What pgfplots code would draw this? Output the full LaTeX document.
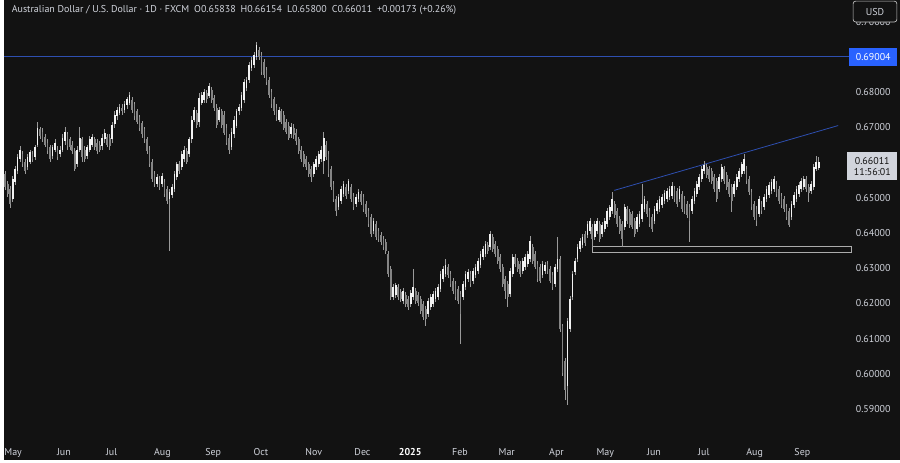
\documentclass[border=0pt]{standalone}
\usepackage{pgfplots}
\pgfplotsset{compat=1.18}
\usepackage{pgfplotstable}
\usetikzlibrary{calc}
\usepackage{fontspec}
\setmainfont{PT Sans}

\definecolor{bg}{HTML}{121212}
\definecolor{txt}{HTML}{D1D4DC}
\definecolor{upc}{HTML}{F2F2F2}
\definecolor{dnc}{HTML}{858585}
\definecolor{wick}{HTML}{9A9A9A}
\definecolor{tline}{HTML}{2E4FB0}
\definecolor{tvblue}{HTML}{2962FF}

% AUD/USD daily candles (open high low close), oldest first
\pgfplotstableread{
o h l c
.6567 .6575 .6521 .6530
.6538 .6547 .6502 .6510
.6524 .6533 .6471 .6482
.6496 .6561 .6488 .6553
.6544 .6589 .6536 .6581
.6575 .6623 .6567 .6615
.6609 .6646 .6601 .6637
.6623 .6632 .6587 .6595
.6601 .6609 .6567 .6575
.6587 .6623 .6578 .6615
.6603 .6637 .6595 .6629
.6623 .6632 .6601 .6609
.6615 .6651 .6606 .6643
.6651 .6714 .6643 .6699
.6694 .6702 .6666 .6674
.6688 .6697 .6657 .6666
.6674 .6682 .6643 .6651
.6657 .6666 .6623 .6632
.6643 .6651 .6601 .6609
.6618 .6651 .6609 .6643
.6637 .6666 .6629 .6657
.6637 .6646 .6606 .6615
.6623 .6646 .6615 .6637
.6637 .6680 .6629 .6671
.6660 .6702 .6651 .6688
.6680 .6688 .6637 .6646
.6666 .6674 .6635 .6643
.6651 .6660 .6623 .6632
.6632 .6640 .6575 .6581
.6595 .6646 .6587 .6637
.6637 .6702 .6629 .6671
.6666 .6674 .6601 .6615
.6637 .6646 .6601 .6609
.6618 .6651 .6609 .6643
.6637 .6674 .6629 .6666
.6651 .6682 .6643 .6674
.6666 .6674 .6635 .6643
.6657 .6666 .6623 .6632
.6651 .6660 .6629 .6637
.6646 .6680 .6637 .6671
.6666 .6694 .6657 .6685
.6674 .6682 .6643 .6651
.6671 .6680 .6637 .6646
.6666 .6716 .6657 .6708
.6708 .6745 .6699 .6736
.6731 .6759 .6722 .6750
.6742 .6767 .6734 .6759
.6756 .6765 .6736 .6745
.6750 .6776 .6742 .6767
.6762 .6787 .6753 .6779
.6770 .6801 .6762 .6793
.6779 .6787 .6742 .6750
.6765 .6773 .6722 .6731
.6745 .6753 .6708 .6716
.6728 .6736 .6691 .6699
.6711 .6719 .6671 .6680
.6694 .6702 .6657 .6666
.6666 .6674 .6623 .6632
.6637 .6646 .6587 .6595
.6601 .6609 .6544 .6553
.6567 .6575 .6530 .6538
.6538 .6567 .6530 .6558
.6553 .6561 .6521 .6530
.6538 .6570 .6530 .6561
.6544 .6553 .6502 .6510
.6524 .6533 .6482 .6490
.6496 .6524 .6349 .6516
.6507 .6538 .6499 .6530
.6524 .6575 .6516 .6567
.6558 .6603 .6550 .6595
.6595 .6603 .6567 .6575
.6587 .6632 .6578 .6623
.6609 .6646 .6601 .6637
.6632 .6640 .6595 .6603
.6623 .6674 .6615 .6666
.6666 .6731 .6657 .6722
.6722 .6759 .6714 .6750
.6742 .6750 .6699 .6708
.6714 .6798 .6702 .6784
.6770 .6801 .6762 .6793
.6779 .6809 .6770 .6801
.6798 .6807 .6770 .6779
.6790 .6826 .6782 .6818
.6807 .6815 .6770 .6779
.6784 .6793 .6747 .6756
.6756 .6765 .6699 .6708
.6722 .6759 .6714 .6750
.6745 .6753 .6699 .6708
.6736 .6745 .6677 .6685
.6699 .6708 .6649 .6657
.6671 .6680 .6623 .6637
.6643 .6697 .6635 .6688
.6680 .6731 .6671 .6722
.6705 .6753 .6697 .6745
.6745 .6767 .6736 .6759
.6756 .6801 .6747 .6793
.6779 .6838 .6770 .6829
.6812 .6843 .6804 .6835
.6835 .6886 .6826 .6877
.6869 .6900 .6860 .6892
.6877 .6914 .6869 .6906
.6900 .6942 .6892 .6934
.6920 .6928 .6892 .6900
.6906 .6914 .6849 .6857
.6886 .6894 .6841 .6849
.6863 .6872 .6821 .6829
.6835 .6843 .6784 .6793
.6801 .6809 .6756 .6765
.6779 .6787 .6736 .6745
.6756 .6765 .6719 .6728
.6722 .6759 .6714 .6750
.6745 .6753 .6708 .6716
.6736 .6745 .6691 .6699
.6716 .6725 .6680 .6688
.6705 .6714 .6663 .6671
.6680 .6711 .6671 .6702
.6699 .6708 .6668 .6677
.6685 .6694 .6651 .6660
.6666 .6674 .6623 .6632
.6637 .6646 .6601 .6609
.6623 .6632 .6587 .6595
.6609 .6618 .6578 .6587
.6595 .6603 .6558 .6567
.6581 .6589 .6544 .6558
.6567 .6603 .6558 .6595
.6587 .6618 .6578 .6609
.6595 .6632 .6587 .6623
.6609 .6646 .6601 .6637
.6603 .6688 .6567 .6671
.6651 .6660 .6606 .6615
.6623 .6632 .6558 .6567
.6581 .6589 .6521 .6530
.6538 .6547 .6488 .6496
.6496 .6505 .6448 .6462
.6473 .6510 .6465 .6502
.6490 .6533 .6482 .6524
.6510 .6547 .6502 .6538
.6530 .6538 .6496 .6505
.6519 .6553 .6510 .6547
.6530 .6538 .6488 .6496
.6505 .6513 .6465 .6473
.6482 .6510 .6473 .6502
.6496 .6524 .6488 .6516
.6510 .6519 .6479 .6488
.6502 .6510 .6459 .6468
.6482 .6490 .6445 .6454
.6462 .6471 .6417 .6425
.6445 .6454 .6389 .6397
.6406 .6442 .6397 .6434
.6425 .6434 .6380 .6389
.6406 .6414 .6375 .6383
.6394 .6403 .6366 .6375
.6383 .6392 .6352 .6361
.6375 .6383 .6341 .6349
.6341 .6349 .6276 .6284
.6298 .6307 .6211 .6219
.6219 .6256 .6211 .6247
.6225 .6259 .6216 .6253
.6247 .6256 .6211 .6219
.6233 .6242 .6205 .6214
.6208 .6245 .6199 .6236
.6225 .6233 .6191 .6199
.6214 .6222 .6182 .6191
.6199 .6239 .6191 .6230
.6219 .6298 .6211 .6247
.6236 .6245 .6199 .6208
.6225 .6233 .6194 .6202
.6214 .6222 .6171 .6180
.6199 .6208 .6154 .6163
.6185 .6194 .6135 .6157
.6171 .6216 .6163 .6208
.6191 .6228 .6182 .6219
.6199 .6236 .6191 .6228
.6214 .6245 .6205 .6236
.6219 .6256 .6211 .6247
.6242 .6292 .6233 .6284
.6270 .6307 .6262 .6298
.6284 .6327 .6276 .6310
.6304 .6312 .6273 .6281
.6284 .6292 .6247 .6256
.6264 .6273 .6228 .6236
.6256 .6264 .6211 .6219
.6242 .6250 .6199 .6208
.6228 .6236 .6086 .6171
.6219 .6264 .6211 .6256
.6247 .6292 .6239 .6284
.6270 .6298 .6262 .6290
.6284 .6292 .6247 .6256
.6264 .6301 .6256 .6293
.6281 .6312 .6273 .6304
.6293 .6329 .6284 .6321
.6310 .6349 .6301 .6341
.6332 .6363 .6324 .6355
.6341 .6377 .6332 .6369
.6366 .6375 .6341 .6349
.6361 .6406 .6352 .6397
.6389 .6397 .6346 .6355
.6369 .6377 .6332 .6341
.6355 .6363 .6312 .6321
.6332 .6341 .6290 .6298
.6304 .6312 .6247 .6256
.6270 .6279 .6214 .6236
.6256 .6264 .6191 .6219
.6228 .6301 .6219 .6293
.6284 .6341 .6276 .6332
.6332 .6341 .6304 .6312
.6321 .6329 .6290 .6298
.6312 .6321 .6276 .6284
.6293 .6329 .6284 .6321
.6304 .6341 .6295 .6332
.6312 .6349 .6304 .6341
.6327 .6392 .6318 .6377
.6361 .6369 .6312 .6321
.6341 .6349 .6298 .6304
.6312 .6321 .6262 .6270
.6304 .6312 .6259 .6264
.6281 .6321 .6273 .6312
.6293 .6318 .6284 .6310
.6312 .6321 .6284 .6293
.6298 .6307 .6259 .6264
.6281 .6290 .6239 .6247
.6256 .6312 .6247 .6304
.6298 .6389 .6290 .6327
.6327 .6335 .6120 .6129
.6135 .6143 .5993 .6002
.6038 .6046 .5925 .5954
.5965 .6160 .5911 .6151
.6129 .6222 .6120 .6214
.6219 .6293 .6211 .6284
.6290 .6329 .6281 .6321
.6327 .6369 .6318 .6361
.6355 .6386 .6346 .6377
.6366 .6397 .6358 .6389
.6397 .6406 .6363 .6372
.6394 .6434 .6386 .6425
.6406 .6442 .6397 .6434
.6417 .6425 .6361 .6383
.6389 .6434 .6380 .6425
.6406 .6442 .6397 .6434
.6425 .6434 .6375 .6383
.6397 .6431 .6389 .6423
.6411 .6442 .6403 .6434
.6425 .6471 .6417 .6462
.6445 .6479 .6437 .6473
.6462 .6516 .6454 .6496
.6482 .6490 .6442 .6451
.6462 .6471 .6417 .6425
.6440 .6448 .6397 .6406
.6425 .6434 .6361 .6383
.6417 .6482 .6408 .6473
.6468 .6476 .6425 .6434
.6459 .6468 .6414 .6423
.6454 .6462 .6411 .6417
.6434 .6442 .6389 .6397
.6411 .6454 .6403 .6445
.6425 .6462 .6417 .6454
.6440 .6538 .6431 .6482
.6468 .6505 .6459 .6496
.6482 .6490 .6445 .6454
.6462 .6471 .6417 .6425
.6445 .6454 .6403 .6411
.6434 .6476 .6425 .6468
.6462 .6493 .6454 .6485
.6468 .6505 .6459 .6496
.6479 .6510 .6471 .6502
.6490 .6521 .6482 .6513
.6496 .6527 .6488 .6519
.6502 .6533 .6493 .6524
.6505 .6544 .6496 .6533
.6524 .6533 .6488 .6496
.6519 .6527 .6473 .6482
.6496 .6533 .6488 .6524
.6510 .6519 .6459 .6468
.6496 .6505 .6454 .6462
.6482 .6490 .6442 .6451
.6473 .6482 .6375 .6434
.6462 .6505 .6454 .6496
.6490 .6527 .6482 .6519
.6510 .6547 .6502 .6538
.6530 .6567 .6521 .6558
.6553 .6589 .6544 .6581
.6575 .6603 .6567 .6592
.6587 .6595 .6555 .6564
.6581 .6589 .6544 .6553
.6575 .6584 .6538 .6547
.6558 .6567 .6516 .6524
.6547 .6555 .6488 .6496
.6524 .6567 .6516 .6558
.6553 .6595 .6544 .6587
.6581 .6589 .6538 .6547
.6564 .6572 .6521 .6530
.6544 .6553 .6502 .6510
.6530 .6538 .6459 .6490
.6510 .6547 .6502 .6538
.6530 .6567 .6521 .6558
.6553 .6584 .6544 .6575
.6567 .6603 .6558 .6595
.6575 .6623 .6567 .6609
.6581 .6589 .6538 .6547
.6553 .6561 .6507 .6516
.6516 .6524 .6465 .6473
.6482 .6490 .6437 .6445
.6468 .6476 .6420 .6434
.6454 .6505 .6445 .6496
.6482 .6490 .6454 .6462
.6473 .6510 .6465 .6502
.6496 .6533 .6488 .6524
.6507 .6544 .6499 .6536
.6519 .6553 .6510 .6544
.6524 .6561 .6516 .6553
.6538 .6547 .6502 .6510
.6524 .6533 .6482 .6490
.6505 .6513 .6471 .6479
.6496 .6505 .6459 .6468
.6473 .6482 .6437 .6445
.6462 .6471 .6417 .6423
.6445 .6490 .6437 .6482
.6479 .6516 .6471 .6507
.6496 .6533 .6488 .6524
.6510 .6544 .6502 .6536
.6524 .6555 .6516 .6547
.6530 .6561 .6521 .6553
.6553 .6561 .6516 .6524
.6530 .6538 .6488 .6513
.6519 .6547 .6510 .6538
.6530 .6595 .6521 .6587
.6581 .6618 .6575 .6601
.65838 .66154 .65800 .66011
}\aud

\begin{document}
\begin{tikzpicture}
\begin{axis}[
    scale only axis,
    width=675pt, height=346.5pt,
    xmin=0, xmax=900,
    ymin=0.575593, ymax=0.706102,
    axis background/.style={fill=bg},
    axis line style={draw=none},
    major tick length=0pt,
    ytick pos=right, yticklabel pos=right,
    ytick={0.59,0.60,0.61,0.62,0.63,0.64,0.65,0.67,0.68,0.70},
    yticklabels={0.59000,0.60000,0.61000,0.62000,0.63000,0.64000,0.65000,0.67000,0.68000,0.70000},
    yticklabel style={anchor=east, xshift=-3.5pt, text=txt, font=\fontsize{7.5}{9}\selectfont},
    xtick={9,60,108,159,210,258,311,360,408,458,505,555,604,653,703,754,802},
    xticklabels={May,Jun,Jul,Aug,Sep,Oct,Nov,Dec,{\color{white}\bfseries 2025},Feb,Mar,Apr,May,Jun,Jul,Aug,Sep},
    xticklabel style={anchor=base, yshift=3pt, text=txt, font=\fontsize{7.5}{9}\selectfont},
]
% support zone and drawn lines
\addplot[draw=gray!65, fill=bg, line width=0.6pt] coordinates {(591,0.6361) (851,0.6361) (851,0.6346) (591,0.6346) (591,0.6361)};
\addplot[tline, line width=0.6pt] coordinates {(0,0.69004) (849,0.69004)};
\addplot[tline, line width=0.6pt] coordinates {(613,0.6521) (838,0.6705)};
% wicks
\addplot[draw=none, mark=none, error bars/.cd, y dir=both, y explicit,
    error mark=none, error bar style={draw=wick, line width=0.55pt}]
  table[x expr=1+2.5*\coordindex, y expr=(\thisrow{h}+\thisrow{l})/2,
        y error expr=(\thisrow{h}-\thisrow{l})/2] {\aud};
% down bodies
\addplot[draw=none, mark=none, error bars/.cd, y dir=both, y explicit,
    error mark=none, error bar style={draw=dnc, line width=1.3pt}]
  table[x expr=1+2.5*\coordindex,
        y expr={\thisrow{c}<\thisrow{o} ? (\thisrow{o}+\thisrow{c})/2 : nan},
        y error expr=abs(\thisrow{o}-\thisrow{c})/2] {\aud};
% up bodies
\addplot[draw=none, mark=none, error bars/.cd, y dir=both, y explicit,
    error mark=none, error bar style={draw=upc, line width=1.3pt}]
  table[x expr=1+2.5*\coordindex,
        y expr={\thisrow{c}>=\thisrow{o} ? (\thisrow{o}+\thisrow{c})/2 : nan},
        y error expr=abs(\thisrow{o}-\thisrow{c})/2] {\aud};

\node[anchor=west, text=txt, font=\fontsize{7.5}{9}\selectfont] at (axis cs:3,0.70328)
  {Australian Dollar / U.S. Dollar · 1D · FXCM\enspace O0.65838\enspace H0.66154\enspace L0.65800\enspace C0.66011\enspace +0.00173 (+0.26\%)};
\node[fill=tvblue, text=white, inner sep=0pt, minimum width=36pt, minimum height=13.5pt,
  anchor=west, font=\fontsize{7.5}{9}\selectfont] at (axis cs:849,0.69004) {0.69004};
\node[fill=txt, text=bg, inner sep=0pt, minimum width=37.5pt, minimum height=21pt,
  anchor=west, align=center, font=\fontsize{7.5}{8.5}\selectfont] at (axis cs:847,0.6589) {0.66011\\11:56:01};
\coordinate (usdA) at (axis cs:853,0.705820);
\coordinate (usdB) at (axis cs:897,0.699890);
\end{axis}
\draw[fill=bg, draw=gray!45, rounded corners=2pt, line width=0.5pt] (usdA) rectangle (usdB);
\node[text=txt, font=\fontsize{7.5}{9}\selectfont] at ($(usdA)!0.5!(usdB)$) {USD};
\end{tikzpicture}
\end{document}
